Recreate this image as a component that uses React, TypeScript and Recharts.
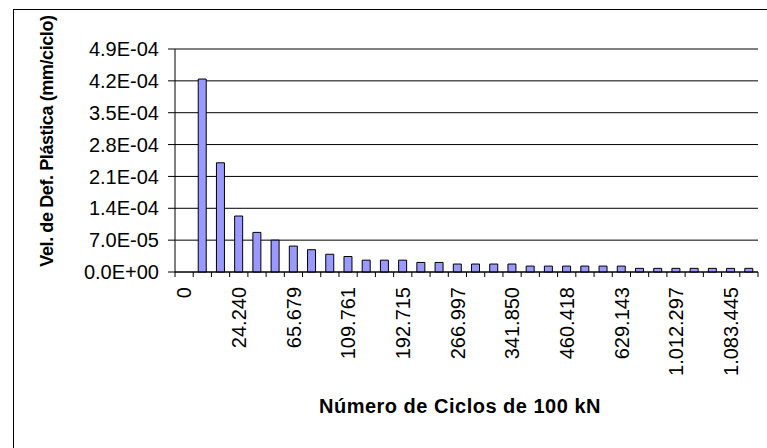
import React from "react";
import { BarChart, Bar, XAxis, YAxis, CartesianGrid } from "recharts";

const FONT = "'Liberation Sans', Arial, sans-serif";

// cycle counts (only every third is shown on the axis)
const ciclos = [
  "0", "7.920", "15.480", "24.240", "38.100", "51.760", "65.679", "80.300",
  "94.880", "109.761", "136.420", "164.560", "192.715", "217.330", "242.110",
  "266.997", "291.870", "316.640", "341.850", "381.200", "420.760", "460.418",
  "516.640", "572.880", "629.143", "755.860", "884.070", "1.012.297",
  "1.036.020", "1.059.730", "1.083.445", "1.107.160",
];

// plastic deformation rate, mm/ciclo
const velocidad: (number | null)[] = [
  null, 4.24e-4, 2.4e-4, 1.23e-4, 8.7e-5, 7.0e-5, 5.7e-5, 4.9e-5, 3.9e-5,
  3.4e-5, 2.6e-5, 2.6e-5, 2.6e-5, 2.1e-5, 2.1e-5, 1.75e-5, 1.75e-5, 1.75e-5,
  1.75e-5, 1.3e-5, 1.3e-5, 1.3e-5, 1.3e-5, 1.3e-5, 1.3e-5, 0.8e-5, 0.8e-5,
  0.8e-5, 0.8e-5, 0.8e-5, 0.8e-5, 0.8e-5,
];

const yTicks = [0, 7e-5, 1.4e-4, 2.1e-4, 2.8e-4, 3.5e-4, 4.2e-4, 4.9e-4];

const rows = ciclos.map((c, i) => ({ label: c, v: velocidad[i] }));

function sci(v: number) {
  const [m, e] = v.toExponential(1).split("e");
  const sign = e[0] === "-" ? "-" : "+";
  const digits = e.replace(/[+-]/, "").padStart(2, "0");
  return `${m}E${sign}${digits}`;
}

function CatTick(props: any) {
  const { x, y, payload, index } = props;
  const half = payload?.offset ?? 0;
  const last = index === ciclos.length - 1;
  return (
    <g transform={`translate(${x},${y})`}>
      <line x1={-half} x2={-half} y1={-15} y2={-10} stroke="#000" />
      {last && <line x1={half} x2={half} y1={-15} y2={-10} stroke="#000" />}
      {index % 3 === 0 && (
        <text
          transform="rotate(-90)"
          textAnchor="end"
          dy="0.36em"
          fontSize={20}
          fontFamily={FONT}
          fill="#000"
        >
          {payload.value}
        </text>
      )}
    </g>
  );
}

function YTitle() {
  return (
    <text
      transform="translate(53,141) rotate(-90)"
      textAnchor="middle"
      fontSize={18}
      fontWeight="bold"
      letterSpacing={-0.4}
      fontFamily={FONT}
      fill="#000"
    >
      Vel. de Def. Plástica (mm/ciclo)
    </text>
  );
}

function XTitle() {
  return (
    <text
      x={460}
      y={413}
      textAnchor="middle"
      fontSize={20}
      fontWeight="bold"
      letterSpacing={0.5}
      fontFamily={FONT}
      fill="#000"
    >
      Número de Ciclos de 100 kN
    </text>
  );
}

export default function App() {
  return (
    <div
      style={{
        position: "fixed",
        left: 0,
        top: 0,
        width: 767,
        height: 448,
        overflow: "hidden",
        background: "#fff",
      }}
    >
      {/* outer frame, runs off the right and bottom edges */}
      <div
        style={{
          position: "absolute",
          left: 13,
          top: 9,
          width: 800,
          height: 500,
          border: "1px solid #000",
        }}
      />
      <div style={{ position: "absolute", left: 0, top: 0 }}>
        <BarChart
          width={767}
          height={448}
          data={rows}
          margin={{ top: 49, right: 9, bottom: 0, left: 0 }}
        >
          <CartesianGrid yAxisId="left" vertical={false} stroke="#000" />
          <XAxis
            dataKey="label"
            height={176}
            interval={0}
            tickSize={5}
            tickMargin={10}
            tickLine={{ stroke: "none" }}
            axisLine={{ stroke: "#000" }}
            tick={<CatTick />}
            label={<XTitle />}
          />
          <YAxis
            yAxisId="left"
            width={175}
            domain={[0, 4.9e-4]}
            ticks={yTicks}
            tickFormatter={sci}
            tickSize={7}
            tickMargin={9}
            axisLine={{ stroke: "#000" }}
            tickLine={{ stroke: "#000" }}
            tick={{ fontSize: 20, fill: "#000", fontFamily: FONT }}
            label={<YTitle />}
          />
          <YAxis
            yAxisId="right"
            orientation="right"
            width={0}
            domain={[0, 4.9e-4]}
            tick={false}
            tickLine={false}
            axisLine={{ stroke: "#808080" }}
          />
          <Bar
            yAxisId="left"
            dataKey="v"
            fill="#9999FF"
            stroke="#000"
            strokeWidth={1}
            barSize={8}
            isAnimationActive={false}
          />
        </BarChart>
      </div>
    </div>
  );
}
